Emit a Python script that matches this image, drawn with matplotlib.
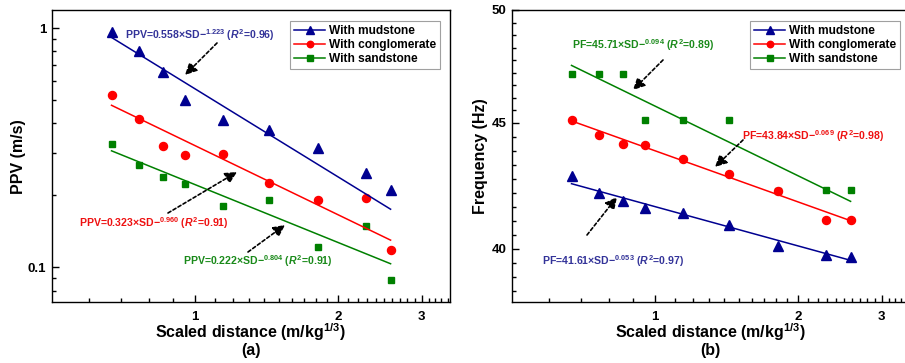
import numpy as np
import matplotlib
matplotlib.use('Agg')
import matplotlib.pyplot as plt
from matplotlib.ticker import FixedLocator, FixedFormatter, NullFormatter

plt.rcParams['font.family'] = ['Liberation Sans', 'DejaVu Sans']
plt.rcParams['font.weight'] = 'bold'
plt.rcParams['axes.labelweight'] = 'bold'
plt.rcParams['mathtext.fontset'] = 'custom'
plt.rcParams['mathtext.rm'] = 'Liberation Sans:bold'
plt.rcParams['mathtext.it'] = 'Liberation Sans:italic:bold'
plt.rcParams['mathtext.bf'] = 'Liberation Sans:bold'

# ── DATA ──────────────────────────────────────────────────────────────────────
sd = [0.668, 0.763, 0.858, 0.954, 1.145, 1.432, 1.813, 2.29, 2.58]

ppv_mud  = [0.96, 0.80, 0.656, 0.503, 0.413, 0.374, 0.315, 0.247, 0.21]
ppv_cong = [0.525, 0.418, 0.323, 0.294, 0.297, 0.226, 0.192, 0.195, 0.118]
ppv_sand = [0.329, 0.267, 0.239, 0.224, 0.180, 0.191, 0.122, 0.149, 0.089]

pf_mud  = [42.82, 42.16, 41.83, 41.55, 41.36, 40.90, 40.12, 39.76, 39.71]
pf_cong = [45.10, 44.50, 44.10, 44.09, 43.50, 42.90, 42.21, 41.09, 41.09]
pf_sand = [47.10, 47.10, 47.10, 45.10, 45.10, 45.10, 42.21, 42.25, 42.25]

# fit coefficients (a, b) of  y = a * SD^-b
fit_ppv = {'mud': (0.558, 1.223), 'cong': (0.323, 0.960), 'sand': (0.222, 0.804)}
fit_pf  = {'mud': (41.61, 0.053), 'cong': (43.84, 0.069), 'sand': (45.71, 0.094)}
r2_ppv  = {'mud': 0.96, 'cong': 0.91, 'sand': 0.91}
r2_pf   = {'mud': 0.97, 'cong': 0.98, 'sand': 0.89}

x_ticks = [1, 2, 3]
ppv_ticks = [0.1, 1]
pf_ticks = [40, 45, 50]

labels = {'mud': 'With mudstone', 'cong': 'With conglomerate', 'sand': 'With sandstone'}
colors = {'mud': '#000090', 'cong': '#ff0000', 'sand': '#008000'}
txtcol = {'mud': '#333399', 'cong': '#ee1111', 'sand': '#1a8a1a'}
markers = {'mud': ('^', 7), 'cong': ('o', 5.8), 'sand': ('s', 5)}
zord = {'mud': 5, 'cong': 4, 'sand': 3}

fig = plt.figure(figsize=(9.05, 3.63), dpi=100)
W, H = 905, 363
ax1 = fig.add_axes([51.7/W, 1-302.3/H, 398.3/W, 292.3/H])
ax2 = fig.add_axes([511.7/W, 1-302.3/H, 398.3/W, 292.3/H])

sd_arr = np.array(sd)
xs = np.geomspace(sd_arr.min(), sd_arr.max(), 50)


def draw(ax, data, fits):
    for key in ['sand', 'cong', 'mud']:
        a, b = fits[key]
        m, ms = markers[key]
        ax.plot(xs, a * xs ** (-b), color=colors[key], lw=1.1, zorder=zord[key])
        ax.plot(sd, data[key], ls='none', marker=m, ms=ms, color=colors[key],
                zorder=zord[key] + 0.5)
    handles = [plt.Line2D([], [], color=colors[k], lw=1.1, marker=markers[k][0],
                          ms=markers[k][1] * 0.8) for k in ['mud', 'cong', 'sand']]
    leg = ax.legend(handles, [labels[k] for k in ['mud', 'cong', 'sand']],
                    loc='upper right', bbox_to_anchor=(0.975, 0.962), borderaxespad=0,
                    prop={'size': 8.6, 'weight': 'bold'}, frameon=True, fancybox=False,
                    borderpad=0.35, handlelength=2.6, handletextpad=0.3, labelspacing=0.15)
    leg.get_frame().set_edgecolor('#888888')
    leg.get_frame().set_linewidth(0.8)
    ax.set_xscale('log')
    ax.set_xlim(0.5, 3.44)
    ax.xaxis.set_major_locator(FixedLocator(x_ticks))
    ax.xaxis.set_major_formatter(FixedFormatter([str(t) for t in x_ticks]))
    ax.xaxis.set_minor_locator(FixedLocator(np.round(np.arange(0.6, 3.45, 0.1), 2)))
    ax.xaxis.set_minor_formatter(NullFormatter())
    ax.tick_params(which='both', direction='in', top=False, right=False,
                   labelsize=9.5, width=1.0)
    ax.tick_params(which='major', length=5)
    ax.tick_params(which='minor', length=2.8)
    ax.tick_params(axis='x', pad=6)
    ax.tick_params(axis='y', pad=4)
    for s in ax.spines.values():
        s.set_linewidth(1.0)
    ax.set_xlabel('Scaled distance (m/kg$^{1/3}$)', fontsize=11.5, labelpad=-1)


draw(ax1, {'mud': ppv_mud, 'cong': ppv_cong, 'sand': ppv_sand}, fit_ppv)
draw(ax2, {'mud': pf_mud, 'cong': pf_cong, 'sand': pf_sand}, fit_pf)

# left panel axes
ax1.set_yscale('log')
ax1.set_ylim(0.0715, 1.19)
ax1.yaxis.set_major_locator(FixedLocator(ppv_ticks))
ax1.yaxis.set_major_formatter(FixedFormatter([str(t) for t in ppv_ticks]))
ax1.yaxis.set_minor_locator(FixedLocator([0.08, 0.09, 0.2, 0.3, 0.4, 0.5, 0.6, 0.7, 0.8, 0.9]))
ax1.yaxis.set_minor_formatter(NullFormatter())
ax1.set_ylabel('PPV (m/s)', fontsize=11.5, labelpad=1)

# right panel axes
ax2.set_yscale('log')
ax2.set_ylim(38.05, 50)
ax2.yaxis.set_major_locator(FixedLocator(pf_ticks))
ax2.yaxis.set_major_formatter(FixedFormatter([str(t) for t in pf_ticks]))
minors = list(np.geomspace(45, 50, 10)[1:-1]) + list(np.geomspace(40, 45, 10)[1:-1]) \
    + [40 / (45 / 40) ** (k / 9) for k in (1, 2, 3)]
ax2.yaxis.set_minor_locator(FixedLocator(minors))
ax2.yaxis.set_minor_formatter(NullFormatter())
ax2.set_ylabel('Frequency (Hz)', fontsize=11.5, labelpad=2)

for ax in (ax1, ax2):
    for lab in ax.get_xticklabels() + ax.get_yticklabels():
        lab.set_fontweight('bold')

ax1.text(0.5, -0.14, '(a)', transform=ax1.transAxes, ha='center', va='top',
         fontsize=11.5, fontweight='bold')
ax2.text(0.5, -0.14, '(b)', transform=ax2.transAxes, ha='center', va='top',
         fontsize=11.5, fontweight='bold')


# ── ANNOTATIONS (pixel positions in the 905x363 figure) ───────────────────────
def px(x, y):
    return (x / W, 1 - y / H)


def note(text, key, xy_txt, arrow_from, arrow_to):
    fig.text(*px(*xy_txt), text, color=txtcol[key], fontsize=7.6, fontweight='bold',
             ha='left', va='center')
    fig.add_artist(matplotlib.patches.FancyArrowPatch(
        px(*arrow_from), px(*arrow_to), transform=fig.transFigure,
        arrowstyle='-|>,head_length=7,head_width=3.5', mutation_scale=1,
        color='black', lw=1.2, ls=(0, (2, 1.5)), shrinkA=0, shrinkB=0))


def eq(name, key, fits, r2):
    a, b = fits[key]
    return f'{name}={a}×SD${{-}}^{{{b:.3f}}}$ ($R^2$={r2[key]:.2f})'


note(eq('PPV', 'mud', fit_ppv, r2_ppv), 'mud', (125, 35), (217, 43), (185, 75))
note(eq('PPV', 'cong', fit_ppv, r2_ppv), 'cong', (79, 223), (168, 213), (237, 172))
note(eq('PPV', 'sand', fit_ppv, r2_ppv), 'sand', (183, 261), (248, 252), (285, 225))
note(eq('PF', 'sand', fit_pf, r2_pf), 'sand', (572, 45), (663, 60), (633, 90))
note(eq('PF', 'cong', fit_pf, r2_pf), 'cong', (742, 136), (743, 140), (715, 167))
note(eq('PF', 'mud', fit_pf, r2_pf), 'mud', (542, 261), (587, 235), (617, 197))

fig.savefig('out.png', dpi=100)
